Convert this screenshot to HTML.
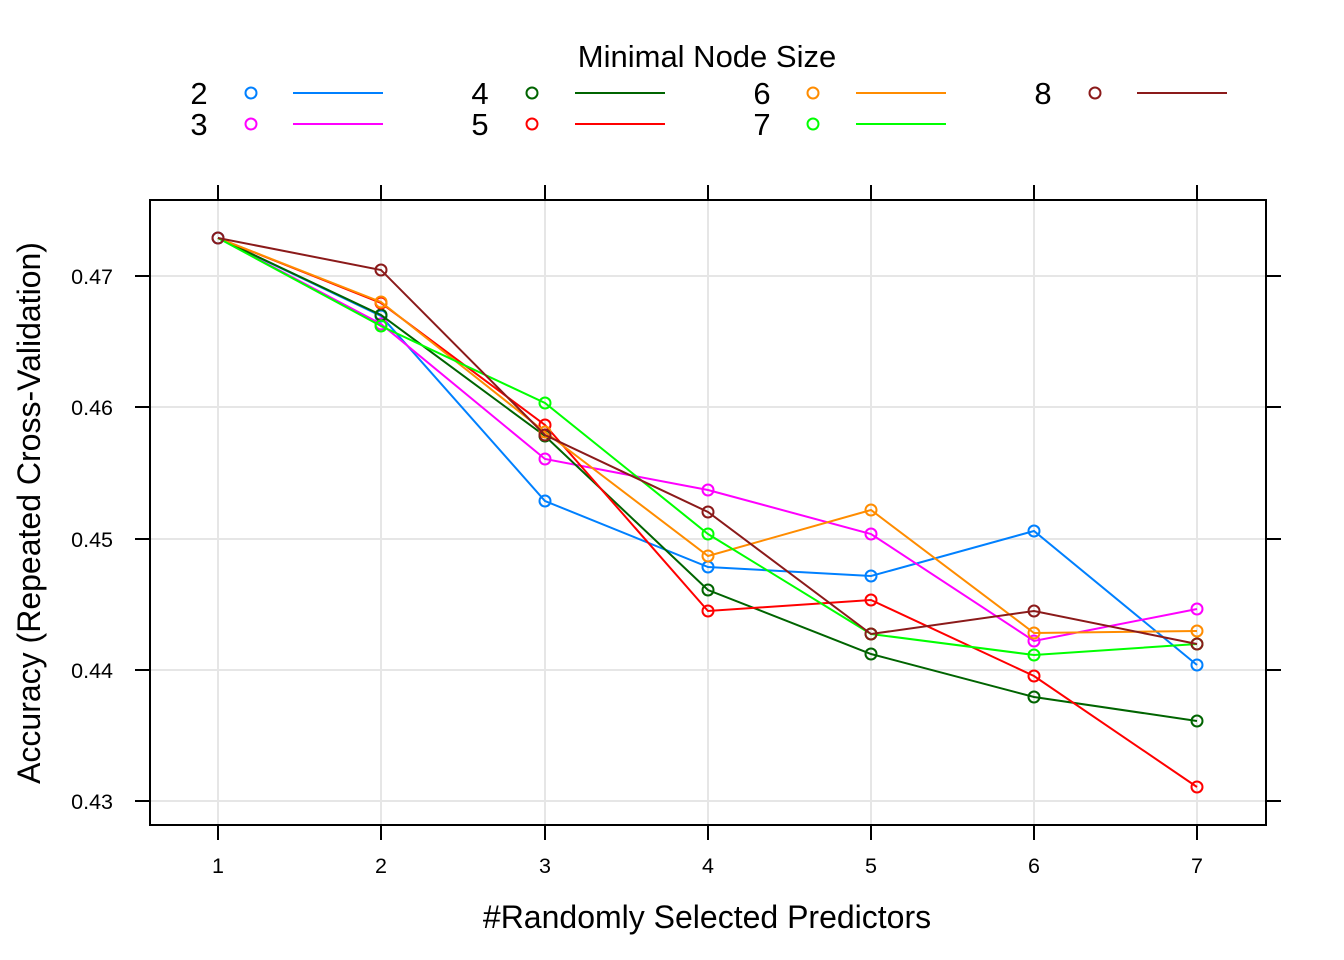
<!DOCTYPE html>
<html><head><meta charset="utf-8"><style>body{margin:0;background:#fff}svg{display:block}</style></head>
<body>
<svg width="1344" height="960" xmlns="http://www.w3.org/2000/svg" font-family="Liberation Sans, Arial, sans-serif">
<rect width="1344" height="960" fill="#fff"/>
<g stroke="#e6e6e6" stroke-width="2">
<line x1="218" y1="200" x2="218" y2="825"/><line x1="381" y1="200" x2="381" y2="825"/><line x1="545" y1="200" x2="545" y2="825"/><line x1="708" y1="200" x2="708" y2="825"/><line x1="871" y1="200" x2="871" y2="825"/><line x1="1034" y1="200" x2="1034" y2="825"/><line x1="1197" y1="200" x2="1197" y2="825"/>
<line x1="150" y1="276" x2="1266" y2="276"/><line x1="150" y1="407" x2="1266" y2="407"/><line x1="150" y1="539" x2="1266" y2="539"/><line x1="150" y1="670" x2="1266" y2="670"/><line x1="150" y1="801" x2="1266" y2="801"/>
</g>
<rect x="150" y="200" width="1116" height="625" fill="none" stroke="#000" stroke-width="2"/>
<g stroke="#000" stroke-width="2">
<line x1="218" y1="185" x2="218" y2="200"/><line x1="381" y1="185" x2="381" y2="200"/><line x1="545" y1="185" x2="545" y2="200"/><line x1="708" y1="185" x2="708" y2="200"/><line x1="871" y1="185" x2="871" y2="200"/><line x1="1034" y1="185" x2="1034" y2="200"/><line x1="1197" y1="185" x2="1197" y2="200"/>
<line x1="218" y1="825" x2="218" y2="840"/><line x1="381" y1="825" x2="381" y2="840"/><line x1="545" y1="825" x2="545" y2="840"/><line x1="708" y1="825" x2="708" y2="840"/><line x1="871" y1="825" x2="871" y2="840"/><line x1="1034" y1="825" x2="1034" y2="840"/><line x1="1197" y1="825" x2="1197" y2="840"/>
<line x1="135" y1="276" x2="150" y2="276"/><line x1="135" y1="407" x2="150" y2="407"/><line x1="135" y1="539" x2="150" y2="539"/><line x1="135" y1="670" x2="150" y2="670"/><line x1="135" y1="801" x2="150" y2="801"/>
<line x1="1266" y1="276" x2="1281" y2="276"/><line x1="1266" y1="407" x2="1281" y2="407"/><line x1="1266" y1="539" x2="1281" y2="539"/><line x1="1266" y1="670" x2="1281" y2="670"/><line x1="1266" y1="801" x2="1281" y2="801"/>
</g>
<g font-size="21.5" text-anchor="end" fill="#000">
<text x="113" y="284">0.47</text><text x="113" y="415">0.46</text><text x="113" y="547">0.45</text><text x="113" y="678">0.44</text><text x="113" y="809">0.43</text>
</g>
<g font-size="21.5" text-anchor="middle" fill="#000">
<text x="218" y="873">1</text><text x="381" y="873">2</text><text x="545" y="873">3</text><text x="708" y="873">4</text><text x="871" y="873">5</text><text x="1034" y="873">6</text><text x="1197" y="873">7</text>
</g>
<text x="707" y="928" font-size="32" text-anchor="middle">#Randomly Selected Predictors</text>
<text transform="translate(40,513) rotate(-90)" font-size="32" text-anchor="middle">Accuracy (Repeated Cross-Validation)</text>
<g fill="none" stroke-width="2">
<g stroke="#0080ff"><polyline points="218,238 381,316 545,501 708,567 871,576 1034,531 1197,665"/><circle cx="218" cy="238" r="5.5"/><circle cx="381" cy="316" r="5.5"/><circle cx="545" cy="501" r="5.5"/><circle cx="708" cy="567" r="5.5"/><circle cx="871" cy="576" r="5.5"/><circle cx="1034" cy="531" r="5.5"/><circle cx="1197" cy="665" r="5.5"/></g>
<g stroke="#ff00ff"><polyline points="218,238 381,324 545,459 708,490 871,534 1034,641 1197,609"/><circle cx="381" cy="324" r="5.5"/><circle cx="545" cy="459" r="5.5"/><circle cx="708" cy="490" r="5.5"/><circle cx="871" cy="534" r="5.5"/><circle cx="1034" cy="641" r="5.5"/><circle cx="1197" cy="609" r="5.5"/></g>
<g stroke="#006400"><polyline points="218,238 381,315 545,436 708,590 871,654 1034,697 1197,721"/><circle cx="381" cy="315" r="5.5"/><circle cx="545" cy="436" r="5.5"/><circle cx="708" cy="590" r="5.5"/><circle cx="871" cy="654" r="5.5"/><circle cx="1034" cy="697" r="5.5"/><circle cx="1197" cy="721" r="5.5"/></g>
<g stroke="#ff0000"><polyline points="218,238 381,303 545,425 708,611 871,600 1034,676 1197,787"/><circle cx="381" cy="303" r="5.5"/><circle cx="545" cy="425" r="5.5"/><circle cx="708" cy="611" r="5.5"/><circle cx="871" cy="600" r="5.5"/><circle cx="1034" cy="676" r="5.5"/><circle cx="1197" cy="787" r="5.5"/></g>
<g stroke="#ff8c00"><polyline points="218,238 381,302 545,432 708,556 871,510 1034,633 1197,631"/><circle cx="381" cy="302" r="5.5"/><circle cx="545" cy="432" r="5.5"/><circle cx="708" cy="556" r="5.5"/><circle cx="871" cy="510" r="5.5"/><circle cx="1034" cy="633" r="5.5"/><circle cx="1197" cy="631" r="5.5"/></g>
<g stroke="#00ff00"><polyline points="218,238 381,326 545,403 708,534 871,634 1034,655 1197,644"/><circle cx="381" cy="326" r="5.5"/><circle cx="545" cy="403" r="5.5"/><circle cx="708" cy="534" r="5.5"/><circle cx="871" cy="634" r="5.5"/><circle cx="1034" cy="655" r="5.5"/><circle cx="1197" cy="644" r="5.5"/></g>
<g stroke="#8b1a1a"><polyline points="218,238 381,270 545,435 708,512 871,634 1034,611 1197,644"/><circle cx="218" cy="238" r="5.5"/><circle cx="381" cy="270" r="5.5"/><circle cx="545" cy="435" r="5.5"/><circle cx="708" cy="512" r="5.5"/><circle cx="871" cy="634" r="5.5"/><circle cx="1034" cy="611" r="5.5"/><circle cx="1197" cy="644" r="5.5"/></g>
</g>
<text x="707" y="67" font-size="31" text-anchor="middle">Minimal Node Size</text>
<g font-size="31" text-anchor="middle">
<text x="199" y="104">2</text><text x="199" y="135">3</text>
<text x="480" y="104">4</text><text x="480" y="135">5</text>
<text x="762" y="104">6</text><text x="762" y="135">7</text>
<text x="1043" y="104">8</text>
</g>
<g fill="none" stroke-width="2">
<circle cx="251" cy="93" r="5.5" stroke="#0080ff"/><line x1="293" y1="93" x2="383" y2="93" stroke="#0080ff"/>
<circle cx="251" cy="124" r="5.5" stroke="#ff00ff"/><line x1="293" y1="124" x2="383" y2="124" stroke="#ff00ff"/>
<circle cx="532" cy="93" r="5.5" stroke="#006400"/><line x1="575" y1="93" x2="665" y2="93" stroke="#006400"/>
<circle cx="532" cy="124" r="5.5" stroke="#ff0000"/><line x1="575" y1="124" x2="665" y2="124" stroke="#ff0000"/>
<circle cx="813" cy="93" r="5.5" stroke="#ff8c00"/><line x1="856" y1="93" x2="946" y2="93" stroke="#ff8c00"/>
<circle cx="813" cy="124" r="5.5" stroke="#00ff00"/><line x1="856" y1="124" x2="946" y2="124" stroke="#00ff00"/>
<circle cx="1095" cy="93" r="5.5" stroke="#8b1a1a"/><line x1="1137" y1="93" x2="1227" y2="93" stroke="#8b1a1a"/>
</g>
</svg>
</body></html>
